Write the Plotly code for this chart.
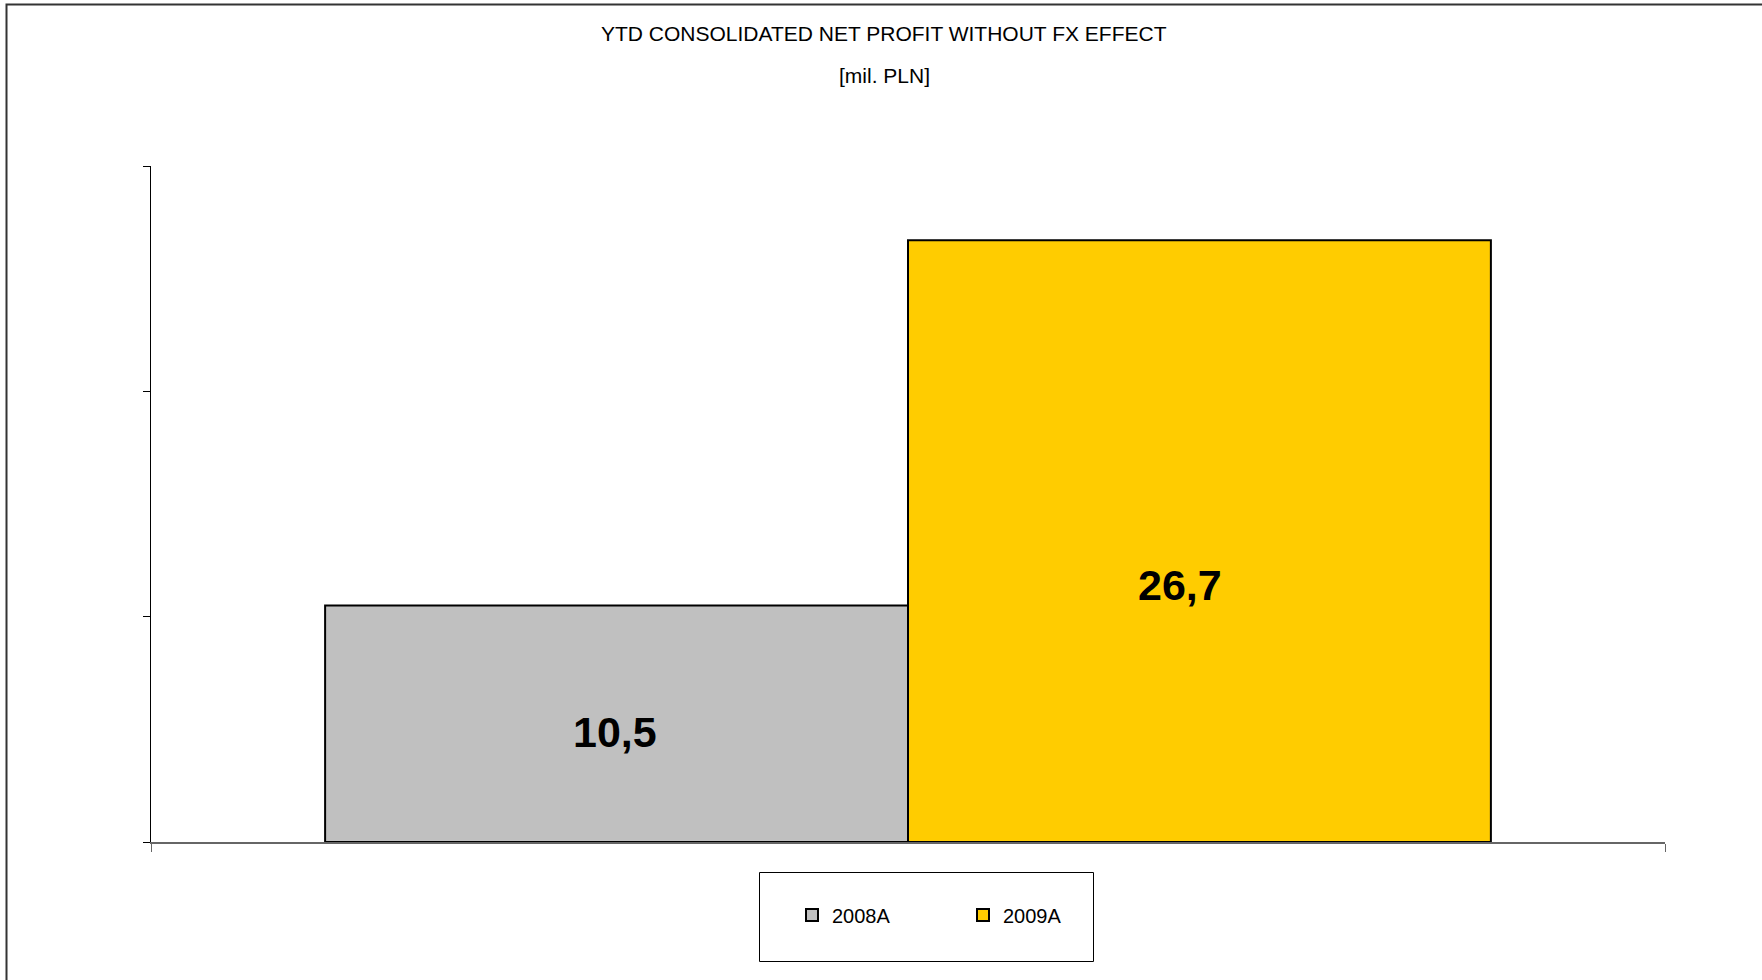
import plotly.graph_objects as go

# ---- data ----
categories = ["YTD"]
series_names = ["2008A", "2009A"]
values_2008 = [10.5]
values_2009 = [26.7]
label_texts = ["10,5", "26,7"]

# ---- style ----
colors = ["#C0C0C0", "#FFCC00"]
label_y_frac = [0.465, 0.427]    # vertical placement of data labels inside bars
label_xshift = [-293, 272]
FONT = "Liberation Sans, Arial, sans-serif"

W, H = 1762, 980
L, R, T, B = 151, 97, 166, 138
pw, ph = W - L - R, H - T - B

def px_x(x):
    return (x - L) / pw

def px_y(y):
    return (H - B - y) / ph

fig = go.Figure()
for name, vals, col in zip(series_names, [values_2008, values_2009], colors):
    fig.add_trace(go.Bar(
        x=categories, y=vals, name=name,
        marker=dict(color=col, line=dict(color="#000000", width=2)),
        hoverinfo="skip",
    ))

for vals, txt, frac, xs in zip([values_2008, values_2009], label_texts, label_y_frac, label_xshift):
    fig.add_annotation(
        x=0, y=vals[0] * frac, xref="x", yref="y",
        text=f"<b>{txt}</b>", showarrow=False, xshift=xs,
        font=dict(family=FONT, size=43, color="#000000"),
    )

# title
fig.add_annotation(
    x=px_x(884), y=px_y(33), xref="paper", yref="paper",
    text="YTD CONSOLIDATED NET PROFIT WITHOUT FX EFFECT",
    showarrow=False, xanchor="center", yanchor="middle",
    font=dict(family=FONT, size=21, color="#000000"),
)
fig.add_annotation(
    x=px_x(884), y=px_y(75), xref="paper", yref="paper",
    text="[mil. PLN]",
    showarrow=False, xanchor="center", yanchor="middle",
    font=dict(family=FONT, size=21, color="#000000"),
)

# outer chart border (left and top visible)
fig.add_shape(type="rect", xref="paper", yref="paper",
              x0=px_x(6.5), x1=px_x(1800), y0=px_y(4.5), y1=px_y(1100),
              line=dict(color="#333333", width=2), layer="below")
# legend frame
fig.add_shape(type="rect", xref="paper", yref="paper",
              x0=px_x(759.5), x1=px_x(1093.5), y0=px_y(872.5), y1=px_y(961.5),
              line=dict(color="#000000", width=1))

fig.update_layout(
    width=W, height=H,
    margin=dict(l=L, r=R, t=T, b=B),
    paper_bgcolor="white", plot_bgcolor="white",
    barmode="group", bargap=0.23, bargroupgap=0,
    showlegend=True,
    legend=dict(
        orientation="h", x=px_x(792), xanchor="left", y=px_y(915), yanchor="middle",
        entrywidth=126, entrywidthmode="pixels",
        font=dict(family=FONT, size=20, color="#000000"),
        bgcolor="rgba(0,0,0,0)", borderwidth=0, itemclick=False, itemdoubleclick=False,
    ),
    font=dict(family=FONT),
)
fig.update_xaxes(
    type="category", range=[-0.5, 0.5], showgrid=False, showline=True,
    linecolor="#666666", linewidth=1.5,
    ticks="outside", tickson="boundaries", ticklen=8, tickcolor="#666666",
    showticklabels=False, zeroline=False,
)
fig.update_yaxes(
    range=[0, 30], dtick=10, tick0=0, showgrid=False, zeroline=False,
    showline=True, linecolor="#000000", linewidth=1,
    ticks="outside", ticklen=7, tickcolor="#000000", showticklabels=False,
)

fig.write_html("out.html")
